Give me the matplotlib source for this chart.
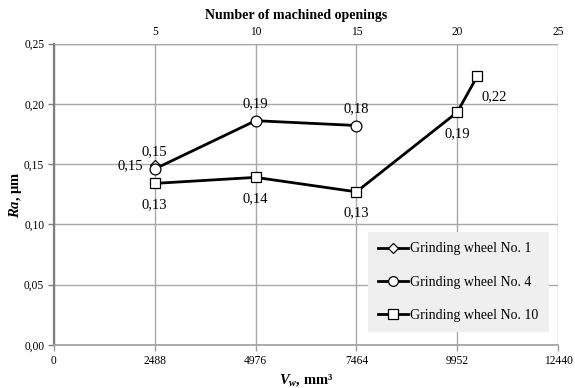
import matplotlib
matplotlib.use("Agg")
import matplotlib.pyplot as plt
from matplotlib.ticker import FixedLocator, FuncFormatter

plt.rcParams['font.family'] = ['Liberation Serif', 'DejaVu Serif']
plt.rcParams['mathtext.fontset'] = 'custom'
plt.rcParams['mathtext.rm'] = 'Liberation Serif:bold'
plt.rcParams['mathtext.it'] = 'Liberation Serif:italic:bold'
plt.rcParams['mathtext.bf'] = 'Liberation Serif:bold'

# removed volume per machined opening, mm^3
VOL_PER_OPENING = 497.6

# series data: removed volume (mm^3) and roughness Ra (µm)
wheel1_x = [2488]
wheel1_y = [0.149]
wheel4_x = [2488, 4976, 7464]
wheel4_y = [0.146, 0.186, 0.182]
wheel10_x = [2488, 4976, 7464, 9952, 10450]
wheel10_y = [0.134, 0.139, 0.127, 0.193, 0.223]

series_names = ["Grinding wheel No. 1", "Grinding wheel No. 4", "Grinding wheel No. 10"]
x_ticks = [0, 2488, 4976, 7464, 9952, 12440]
y_ticks = [0.00, 0.05, 0.10, 0.15, 0.20, 0.25]
top_ticks = [5, 10, 15, 20, 25]

fig = plt.figure(figsize=(5.75, 3.88), dpi=100)
ax = fig.add_axes([54 / 575, (388 - 345) / 388, (558 - 54) / 575, (345 - 43.5) / 388])

grid_c = '#a8a8a8'
line_kw = dict(color='black', lw=2.0, markerfacecolor='white',
               markeredgecolor='black', markeredgewidth=0.9)
h1, = ax.plot(wheel1_x, wheel1_y, marker='D', ms=5.5, **line_kw)
h4, = ax.plot(wheel4_x, wheel4_y, marker='o', ms=7.8, **line_kw)
h10, = ax.plot(wheel10_x, wheel10_y, marker='s', ms=7.4, **line_kw)
for h in (h1, h4, h10):
    h.set_zorder(3)


def fmt(v):
    return f"{v:.2f}".replace('.', ',')


lab_kw = dict(textcoords='offset pixels', fontsize=10.5, zorder=4)
# wheel No. 1: label above
for x, y in zip(wheel1_x, wheel1_y):
    ax.annotate(fmt(y), (x, y), xytext=(0, 14), ha='center', va='center', **lab_kw)
# wheel No. 4: first label left, others above
for i, (x, y) in enumerate(zip(wheel4_x, wheel4_y)):
    if i == 0:
        ax.annotate(fmt(y), (x, y), xytext=(-12, 3), ha='right', va='center', **lab_kw)
    else:
        ax.annotate(fmt(y), (x, y), xytext=(0, 17), ha='center', va='center', **lab_kw)
# wheel No. 10: labels below, last one to the lower right
for i, (x, y) in enumerate(zip(wheel10_x, wheel10_y)):
    if i == len(wheel10_x) - 1:
        ax.annotate(fmt(y), (x, y), xytext=(17, -21), ha='center', va='center', **lab_kw)
    else:
        ax.annotate(fmt(y), (x, y), xytext=(0, -21), ha='center', va='center', **lab_kw)

ax.set_xlim(0, 12440)
ax.set_ylim(0, 0.25)
ax.xaxis.set_major_locator(FixedLocator(x_ticks))
ax.yaxis.set_major_locator(FixedLocator(y_ticks))
ax.xaxis.set_major_formatter(FuncFormatter(lambda v, p: f"{int(round(v))}"))
ax.yaxis.set_major_formatter(FuncFormatter(lambda v, p: fmt(v)))
ax.tick_params(axis='both', labelsize=8.3, length=4, width=1, pad=3)
ax.tick_params(axis='x', colors='#a0a0a0', labelcolor='black')
ax.tick_params(axis='y', colors='#808080', labelcolor='black')
ax.grid(True, color=grid_c, lw=1)
ax.set_axisbelow(True)
for s in ('top', 'right'):
    ax.spines[s].set_visible(False)
ax.spines['left'].set_color('#808080')
ax.spines['left'].set_linewidth(1.6)
ax.spines['bottom'].set_color('#a0a0a0')
ax.spines['bottom'].set_linewidth(1.2)
ax.axhline(0.25, color=grid_c, lw=1, zorder=0.5)

ax.set_xlabel(r"$V_w$, mm³", fontsize=10.5, fontweight='bold', labelpad=4)
ax.set_ylabel(r"$Ra$, µm", fontsize=10.5, fontweight='bold', labelpad=0)

top = ax.secondary_xaxis('top', functions=(lambda v: v / VOL_PER_OPENING,
                                           lambda n: n * VOL_PER_OPENING))
top.xaxis.set_major_locator(FixedLocator(top_ticks))
top.tick_params(labelsize=8.3, length=0, pad=4)
top.spines['top'].set_visible(False)
top.set_xlabel("Number of machined openings", fontsize=10, fontweight='bold', labelpad=5)
top.xaxis.label.set_x(0.48)

leg = ax.legend([h1, h4, h10], series_names, loc='upper left',
                bbox_to_anchor=(368 / 575, (388 - 232) / 388), bbox_transform=fig.transFigure,
                borderaxespad=0, fontsize=10, frameon=True, fancybox=False,
                facecolor='#efefef', edgecolor='none', framealpha=1,
                handlelength=2.1, handletextpad=0.2, labelspacing=1.45,
                borderpad=0.75, markerscale=0.9)
leg.get_frame().set_linewidth(0)

fig.savefig("out.png", dpi=100)
